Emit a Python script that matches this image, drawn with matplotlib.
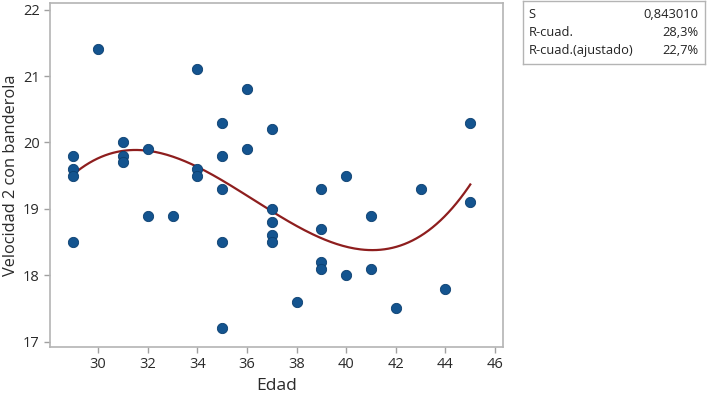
import numpy as np
import matplotlib
matplotlib.use('Agg')
import matplotlib.pyplot as plt

plt.rcParams['font.family'] = ['Open Sans', 'DejaVu Sans']

# Edad vs Velocidad 2 con banderola
edad = [29, 29, 29, 29, 30, 31, 31, 31, 32, 32, 33, 34, 34, 34,
        35, 35, 35, 35, 35, 36, 36, 37, 37, 37, 37, 37, 38,
        39, 39, 39, 39, 40, 40, 41, 41, 42, 43, 44, 45, 45]
velocidad = [19.8, 19.6, 19.5, 18.5, 21.4, 20.0, 19.8, 19.7, 19.9, 18.9, 18.9, 21.1, 19.6, 19.5,
             20.3, 19.8, 19.3, 18.5, 17.2, 20.8, 19.9, 20.2, 19.0, 18.8, 18.6, 18.5, 17.6,
             19.3, 18.7, 18.2, 18.1, 19.5, 18.0, 18.9, 18.1, 17.5, 19.3, 17.8, 20.3, 19.1]
xticks = [30, 32, 34, 36, 38, 40, 42, 44, 46]
yticks = [17, 18, 19, 20, 21, 22]
stats_names = ['S', 'R-cuad.', 'R-cuad.(ajustado)']
stats_vals = ['0,843010', '28,3%', '22,7%']

fig = plt.figure(figsize=(7.08, 3.94), dpi=100)
ax = fig.add_axes([0.0706, 0.1193, 0.6399, 0.8731])

# cubic fit line (fitted line plot)
coef = np.polyfit(edad, velocidad, 3)
xs = np.linspace(min(edad), max(edad), 200)
ax.plot(xs, np.polyval(coef, xs), color='#8e1e1e', lw=1.6, zorder=2)
ax.scatter(edad, velocidad, s=55, color='#14548f', edgecolor='#0b3f70', lw=0.6, zorder=3)

ax.set_xlim(28.06, 46.32)
ax.set_ylim(16.92, 22.1)
ax.set_xticks(xticks)
ax.set_yticks(yticks)
for sp in ax.spines.values():
    sp.set_color('#b4b4b4')
    sp.set_linewidth(1.2)
ax.tick_params(colors='#a0a0a0', labelcolor='#2a2a2a', labelsize=10.5, length=4, width=1)
ax.set_xlabel('Edad', fontsize=12.5, color='#2a2a2a', labelpad=4)
ax.set_ylabel('Velocidad 2 con banderola', fontsize=11.8, color='#2a2a2a', labelpad=3)

# summary box
bx = fig.add_axes([523/708, 1 - 64/394, 182/708, 63/394])
bx.set_xticks([])
bx.set_yticks([])
for sp in bx.spines.values():
    sp.set_color('#b4b4b4')
    sp.set_linewidth(1.0)
for i, (n, v) in enumerate(zip(stats_names, stats_vals)):
    yy = 0.78 - i * 0.28
    bx.text(0.03, yy, n, fontsize=9.3, color='#222222', va='center', transform=bx.transAxes)
    bx.text(0.965, yy, v, fontsize=9.3, color='#222222', va='center', ha='right', transform=bx.transAxes)

fig.savefig('out.png', dpi=100)
